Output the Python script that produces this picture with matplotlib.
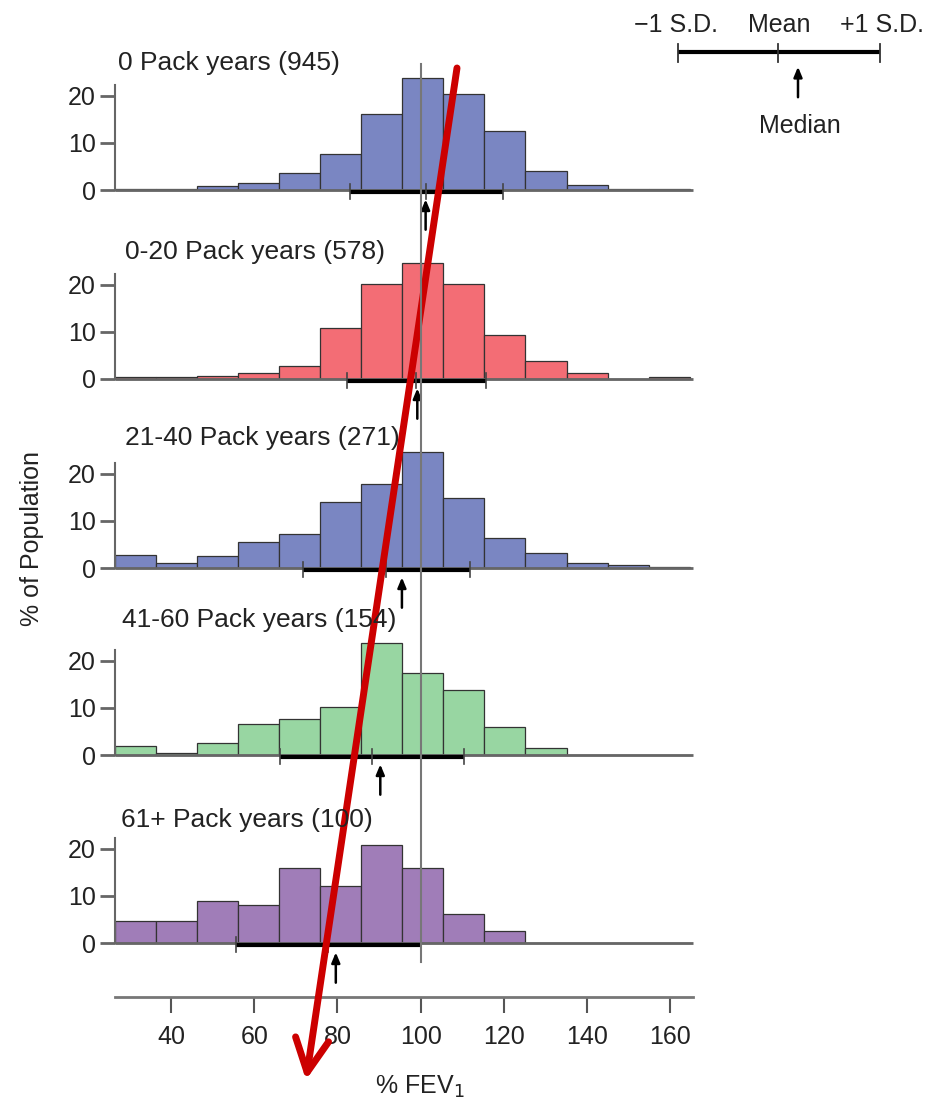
import numpy as np
import matplotlib
matplotlib.use("Agg")
import matplotlib.pyplot as plt
from matplotlib.lines import Line2D
from matplotlib.transforms import blended_transform_factory

# Histogram data (% of population per %FEV1 bin)
bin_edges = np.linspace(26.5, 164.7, 15)
panel_titles = ["0 Pack years (945)", "0-20 Pack years (578)", "21-40 Pack years (271)",
                "41-60 Pack years (154)", "61+ Pack years (100)"]
heights_0 = [0.3, 0.3, 0.8, 1.5, 3.6, 7.7, 16.2, 23.8, 20.3, 12.6, 4.1, 1.0, 0.3, 0.2]
heights_0_20 = [0.35, 0.35, 0.7, 1.3, 2.8, 10.9, 20.2, 24.6, 20.2, 9.4, 3.9, 1.3, 0.0, 0.35]
heights_21_40 = [2.7, 1.05, 2.6, 5.6, 7.3, 13.9, 17.9, 24.6, 14.9, 6.4, 3.2, 1.1, 0.6, 0.2]
heights_41_60 = [1.9, 0.5, 2.6, 6.6, 7.7, 10.2, 23.7, 17.4, 13.7, 6.0, 1.5, 0.0, 0.0, 0.0]
heights_61 = [4.7, 4.7, 9.0, 8.0, 15.8, 12.1, 20.7, 15.8, 6.2, 2.5, 0.0, 0.0, 0.0, 0.0]
means = [101.4, 98.9, 91.7, 88.4, 77.8]
sds = [18.5, 16.7, 20.1, 22.1, 22.2]
medians = [101.2, 99.2, 95.5, 90.3, 79.6]
x_ticks = [40, 60, 80, 100, 120, 140, 160]
y_ticks = [0, 10, 20]

colors = ["#7a86c2", "#f36d75", "#7a86c2", "#98d6a2", "#a07db8"]

W, H = 933, 1106
X0, X1 = 115, 693          # axes pixel extent
XLIM = (26.5, 165.5)
PX_PER_UNIT = 4.72
YLIM = (-10, 26)
baselines = [190, 379, 568, 755, 943]
title_pos = [(118, 63), (125, 252), (125, 438), (122, 620), (121, 820)]


def fbox(left, top, right, bottom):
    return [left / W, 1 - bottom / H, (right - left) / W, (bottom - top) / H]


def main():
    plt.rcParams['font.family'] = ['Liberation Sans', 'DejaVu Sans']
    fig = plt.figure(figsize=(W / 100, H / 100), dpi=100)

    all_heights = [heights_0, heights_0_20, heights_21_40, heights_41_60, heights_61]
    lefts = bin_edges[:-1]
    widths = np.diff(bin_edges)

    for i, hts in enumerate(all_heights):
        base = baselines[i]
        top = base - YLIM[1] * PX_PER_UNIT
        bottom = base - YLIM[0] * PX_PER_UNIT
        ax = fig.add_axes(fbox(X0, top, X1, bottom))
        ax.patch.set_alpha(0)
        ax.set_xlim(*XLIM)
        ax.set_ylim(*YLIM)
        ax.bar(lefts, hts, width=widths, align='edge', color=colors[i],
               edgecolor='#333333', linewidth=0.9, zorder=2)
        # baseline
        ax.plot(XLIM, [0, 0], color='#666666', lw=2, zorder=3, clip_on=False,
                solid_capstyle='butt')
        # +/- 1 SD bar with mean tick
        lo, hi = means[i] - sds[i], means[i] + sds[i]
        ax.plot([lo, hi], [-0.45, -0.45], color='black', lw=3, zorder=4,
                solid_capstyle='butt')
        for xv in (lo, hi, means[i]):
            ax.plot([xv, xv], [1.3, -2.0], color='#444444', lw=1.2, zorder=4)
        # median arrow
        ax.annotate('', xy=(medians[i], -1.4), xytext=(medians[i], -9.0),
                    arrowprops=dict(arrowstyle='-|>,head_length=0.6,head_width=0.25',
                                    color='black', lw=1.8), zorder=5)
        for s in ['top', 'right', 'bottom']:
            ax.spines[s].set_visible(False)
        ax.spines['left'].set_bounds(0, 22.3)
        ax.spines['left'].set_color('#666666')
        ax.spines['left'].set_linewidth(1.5)
        ax.set_xticks([])
        ax.set_yticks(y_ticks)
        ax.tick_params(axis='y', length=11, width=2, color='#666666',
                       labelsize=18, pad=3, labelcolor='#222222')
        fig.text(title_pos[i][0] / W, 1 - title_pos[i][1] / H, panel_titles[i],
                 fontsize=19, color='#222222', va='center', ha='left')

    # shared x axis at the bottom
    axb = fig.add_axes(fbox(X0, 960, X1, 997))
    axb.patch.set_alpha(0)
    axb.set_xlim(*XLIM)
    axb.set_ylim(0, 1)
    for s in ['top', 'right', 'left']:
        axb.spines[s].set_visible(False)
    axb.spines['bottom'].set_color('#777777')
    axb.spines['bottom'].set_linewidth(2)
    axb.set_yticks([])
    axb.set_xticks(x_ticks)
    axb.tick_params(axis='x', length=11.5, width=1.5, color='#555555',
                    labelsize=18, pad=9, labelcolor='#222222')
    fig.text(420 / W, 1 - 1087 / H, '% FEV$_1$', fontsize=18, color='#222222',
             ha='center', va='center')
    fig.text(32 / W, 1 - 538 / H, '% of Population', fontsize=18, color='#222222',
             rotation=90, ha='center', va='center')

    # vertical reference line at 100%
    trans = blended_transform_factory(axb.transData, fig.transFigure)
    fig.add_artist(Line2D([100, 100], [1 - 64 / H, 1 - 962 / H], transform=trans,
                          color='#777777', lw=1.5, zorder=10))

    # key: -1 SD / Mean / +1 SD / Median
    axk = fig.add_axes([0, 0, 1, 1])
    axk.set_xlim(0, W)
    axk.set_ylim(H, 0)
    axk.axis('off')
    axk.plot([678, 880], [52, 52], color='black', lw=3, solid_capstyle='butt')
    for xv in (678, 880, 778):
        axk.plot([xv, xv], [44, 62], color='#333333', lw=1.3)
    axk.annotate('', xy=(798, 64), xytext=(798, 100),
                 arrowprops=dict(arrowstyle='-|>,head_length=0.6,head_width=0.25',
                                 color='black', lw=1.8))
    axk.text(676, 25, '\u22121 S.D.', fontsize=18, color='#222222', ha='center', va='center')
    axk.text(779, 25, 'Mean', fontsize=18, color='#222222', ha='center', va='center')
    axk.text(882, 25, '+1 S.D.', fontsize=18, color='#222222', ha='center', va='center')
    axk.text(800, 126, 'Median', fontsize=18, color='#222222', ha='center', va='center')

    # red annotation arrow
    axk.annotate('', xy=(306, 1080), xytext=(457, 68),
                 arrowprops=dict(arrowstyle='->,head_length=1.2,head_width=0.6',
                                 color='#cc0000', lw=5, mutation_scale=20,
                                 shrinkA=0, shrinkB=0))

    fig.savefig('out.png', dpi=100)


if __name__ == "__main__":
    main()
